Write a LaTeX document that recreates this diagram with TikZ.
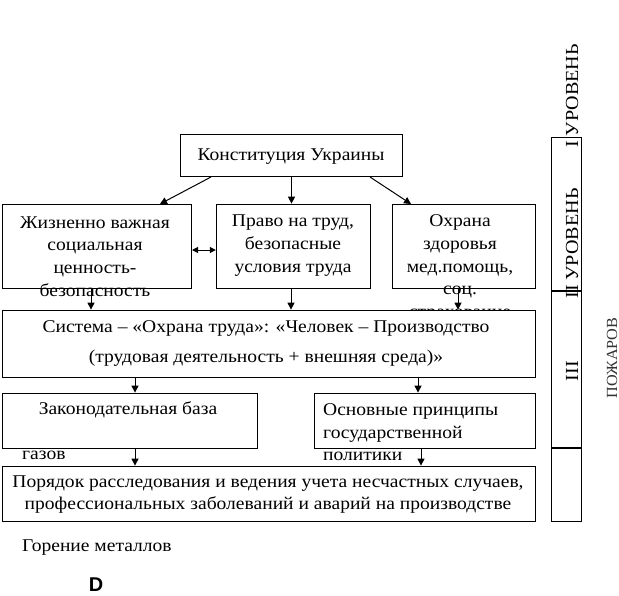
\documentclass[tikz,border=0pt]{standalone}
\usepackage{fontspec}
\setmainfont{Liberation Serif}[FakeStretch=1.09]
\newfontfamily\thinf{Liberation Serif}[FakeStretch=1.05]
\newfontfamily\sansf{Liberation Sans}
\usetikzlibrary{arrows.meta}
\tikzset{
  box/.style={draw, line width=1bp, inner sep=0pt, minimum width=#1},
  txt/.style={inner sep=0pt, font=\fontsize{18}{22.7}\selectfont},
  arr/.style={line width=1bp, -{Triangle[length=7bp,width=7bp]}},
  arrr/.style={line width=1bp, {Triangle[length=6bp,width=6bp]}-{Triangle[length=6bp,width=6bp]}},
  vtxt/.style={inner sep=0pt, rotate=90, font=\fontsize{18.5}{20}\selectfont},
}
\begin{document}
\begin{tikzpicture}[x=1bp,y=-1bp]
\useasboundingbox (0,0) rectangle (619,596);
% boxes
\node[box=223, minimum height=43] (const) at (291.5,155.5) {};
\node[box=190, minimum height=85] (b1) at (97,246.5) {};
\node[box=155, minimum height=85] (b2) at (293.5,246.5) {};
\node[box=144, minimum height=85] (b3) at (464,246.5) {};
% texts of first row
\node[txt] (tconst) at (291,156.5) {Конституция Украины};
\node[txt, align=center] (t1) at (95,256.5) {Жизненно важная\\социальная\\ценность-\\безопасность};
\node[txt, align=center] (t2) at (293,245.5) {Право на труд,\\безопасные\\условия труда};
\node[txt, align=center] (t3) at (460,268) {Охрана\\здоровья\\мед.помощь,\\соц.\\страхование};
% system box (covers overflow)
\node[box=534, minimum height=68, fill=white] (sys) at (269,344) {};
\node[txt, align=center, font=\fontsize{18}{30}\selectfont] (tsys) at (266,343.5) {Система – «Охрана труда»: «Человек – Производство\\(трудовая деятельность + внешняя среда)»};
\node[box=256, minimum height=56] (law) at (130,421) {};
\node[box=222, minimum height=56] (princ) at (425,421) {};
\node[box=534, minimum height=56] (order) at (269,494) {};
\node[txt] (tlaw) at (128,409.5) {Законодательная база};
\node[txt, align=left, anchor=west] (tprinc) at (323,432.5) {Основные принципы\\государственной\\политики};
\node[txt, anchor=west] (tgaz) at (22,455.5) {газов};
\node[txt, align=center, font=\fontsize{18}{22}\selectfont] (torder) at (268,494.5) {Порядок расследования и ведения учета несчастных случаев,\\профессиональных заболеваний и аварий на производстве};
\node[txt, anchor=west] (tgor) at (22,547.5) {Горение металлов};
\node[inner sep=0pt, font=\sansf\bfseries\fontsize{20}{22}\selectfont] (tD) at (96,585) {D};
% right column
\node[box=31, minimum height=385] (col) at (566.5,329.5) {};
\coordinate (d1) at (551,291);
\coordinate (d2) at (551,448);
\draw[line width=2bp] (d1) -- (d1 -| col.east);
\draw[line width=2bp] (d2) -- (d2 -| col.east);
\node[vtxt] (lv1) at (572,96) {I УРОВЕНЬ};
\node[vtxt] (lv2) at (572,243.5) {II УРОВЕНЬ};
\node[vtxt] (lv3) at (572,371) {III};
\node[vtxt, font=\thinf\fontsize{15.5}{17}\selectfont, text=black!80] (pozh) at (612,358) {ПОЖАРОВ};
% connectors
\coordinate (c1) at (211,177);
\coordinate (c1e) at (160,204);
\coordinate (c3) at (370,177);
\coordinate (c3e) at (411,204);
\draw[arr] (c1) -- (c1e);
\draw[arr] (const.south) -- (const.south |- b2.north);
\draw[arr] (c3) -- (c3e);
\coordinate (dd) at (192,250);
\draw[arrr] (dd) -- (dd -| b2.west);
\coordinate (a1) at (91,289);
\coordinate (a2) at (291,289);
\coordinate (a3) at (458,289);
\draw[arr] (a1) -- (a1 |- sys.north);
\draw[arr] (a2) -- (a2 |- sys.north);
\draw[arr] (a3) -- (a3 |- sys.north);
\coordinate (s1) at (135,378);
\coordinate (s2) at (418,378);
\draw[arr] (s1) -- (s1 |- law.north);
\draw[arr] (s2) -- (s2 |- princ.north);
\coordinate (l1) at (135,449);
\coordinate (p1) at (421,449);
\draw[arr] (l1) -- (l1 |- order.north);
\draw[arr] (p1) -- (p1 |- order.north);
\end{tikzpicture}
\end{document}
